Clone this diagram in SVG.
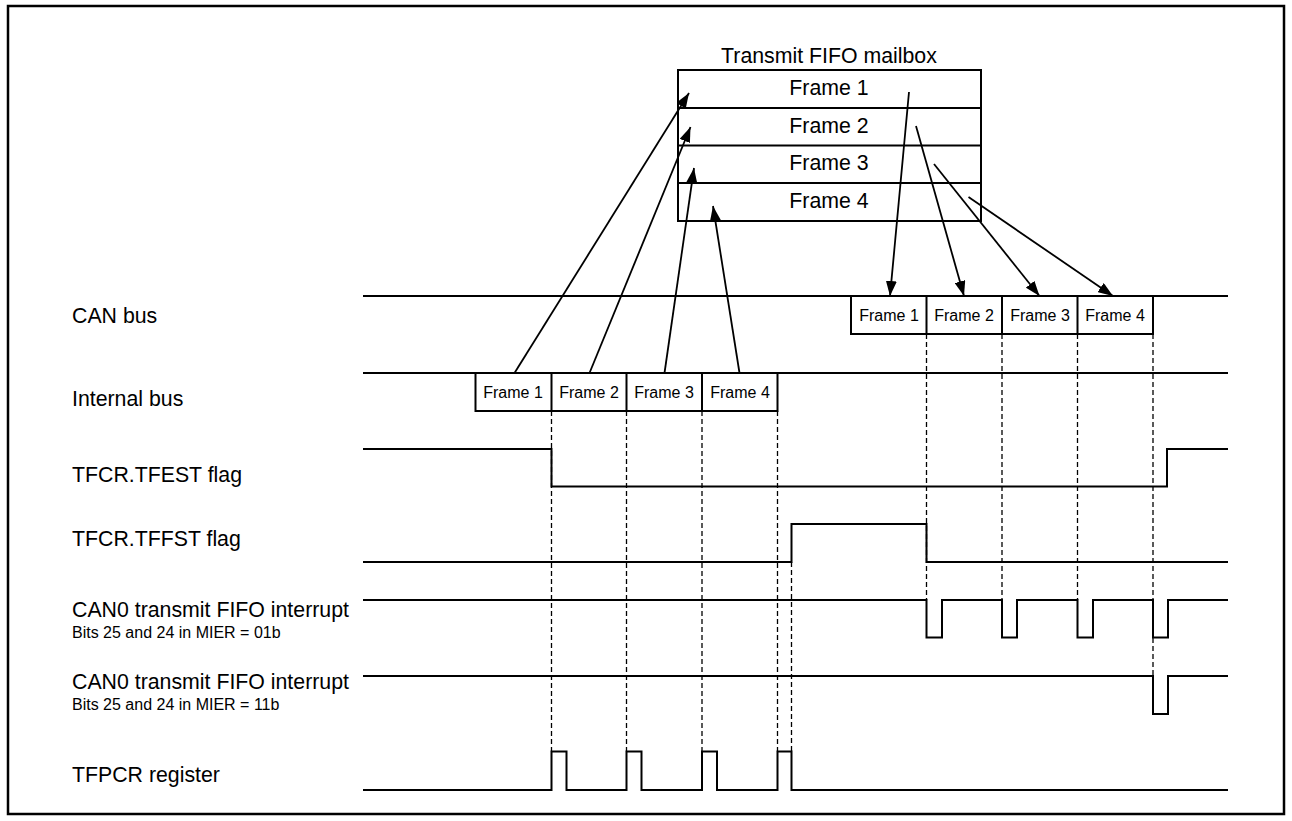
<svg xmlns="http://www.w3.org/2000/svg" width="1292" height="821" viewBox="0 0 1292 821">
<style>
text{font-family:"Liberation Sans",Arial,sans-serif;fill:#000}
.lbl{font-size:21.3px}
.sub{font-size:16px}
.big{font-size:21.3px;text-anchor:middle}
.fr{font-size:16px;text-anchor:middle}
.w{fill:none;stroke:#000;stroke-width:2}
.box{fill:#fff;stroke:#000;stroke-width:2}
.d{fill:none;stroke:#000;stroke-width:1.3;stroke-dasharray:5 3}
.a{fill:none;stroke:#000;stroke-width:1.8}
</style>
<defs>
<marker id="ah" viewBox="0 0 15 11" refX="15" refY="5.5" markerWidth="15" markerHeight="11" markerUnits="userSpaceOnUse" orient="auto"><path d="M0,0 L15,5.5 L0,11 z" fill="#000"/></marker>
</defs>
<rect x="8" y="6" width="1276" height="808" fill="#fff" stroke="#000" stroke-width="2.5"/>

<g id="labels">
<text class="lbl" x="72" y="323">CAN bus</text>
<text class="lbl" x="72" y="406">Internal bus</text>
<text class="lbl" x="72" y="482">TFCR.TFEST flag</text>
<text class="lbl" x="72" y="546">TFCR.TFFST flag</text>
<text class="lbl" x="72" y="617">CAN0 transmit FIFO interrupt</text>
<text class="sub" x="72" y="638">Bits 25 and 24 in MIER = 01b</text>
<text class="lbl" x="72" y="689">CAN0 transmit FIFO interrupt</text>
<text class="sub" x="72" y="710">Bits 25 and 24 in MIER = 11b</text>
<text class="lbl" x="72" y="782">TFPCR register</text>
</g>

<g id="dashes">
<path class="d" d="M551.5 411V751.5M626.5 411V751.5M702 411V751.5M777.5 411V751.5M791.5 562V751.5M926.5 334V600M1002 334V600M1077.5 334V600M1153 334V676"/>
</g>

<g id="waveforms">
<path class="w" d="M363 296H1228"/>
<path class="w" d="M363 373H1228"/>
<path class="w" d="M363 449H551.5V486.5H1167V449H1228"/>
<path class="w" d="M363 562H791.5V524H926.5V562H1228"/>
<path class="w" d="M363 600H926.5V637.5H942V600H1002V637.5H1017V600H1077.5V637.5H1093V600H1153V637.5H1168V600H1228"/>
<path class="w" d="M363 676H1153V714H1168V676H1228"/>
<path class="w" d="M363 790H551.5V751.5H566.5V790H626.5V751.5H641.5V790H702V751.5H717V790H777.5V751.5H791.5V790H1228"/>
</g>

<g id="mailbox">
<text class="big" x="829" y="63">Transmit FIFO mailbox</text>
<rect class="box" x="678" y="70" width="303" height="151"/>
<path class="w" d="M678 108H981M678 145.5H981M678 183H981"/>
<text class="big" x="829" y="95">Frame 1</text>
<text class="big" x="829" y="133">Frame 2</text>
<text class="big" x="829" y="170">Frame 3</text>
<text class="big" x="829" y="208">Frame 4</text>
</g>

<g id="internal-frames">
<rect class="box" x="475.5" y="373" width="302" height="38"/>
<path class="w" d="M551.5 373V411M626.5 373V411M702 373V411"/>
<text class="fr" x="513" y="398">Frame 1</text>
<text class="fr" x="589" y="398">Frame 2</text>
<text class="fr" x="664" y="398">Frame 3</text>
<text class="fr" x="740" y="398">Frame 4</text>
</g>

<g id="can-frames">
<rect class="box" x="851" y="296" width="302" height="38"/>
<path class="w" d="M926.5 296V334M1002 296V334M1077.5 296V334"/>
<text class="fr" x="889" y="321">Frame 1</text>
<text class="fr" x="964" y="321">Frame 2</text>
<text class="fr" x="1040" y="321">Frame 3</text>
<text class="fr" x="1115" y="321">Frame 4</text>
</g>

<g id="connectors">
<line class="a" x1="514.5" y1="373" x2="689" y2="93" marker-end="url(#ah)"/>
<line class="a" x1="589.5" y1="373" x2="690.5" y2="127" marker-end="url(#ah)"/>
<line class="a" x1="664.5" y1="373" x2="694" y2="168" marker-end="url(#ah)"/>
<line class="a" x1="739.5" y1="373" x2="713" y2="206" marker-end="url(#ah)"/>
<line class="a" x1="909" y1="92" x2="890" y2="296" marker-end="url(#ah)"/>
<line class="a" x1="916" y1="126" x2="964" y2="296" marker-end="url(#ah)"/>
<line class="a" x1="934" y1="164" x2="1039.5" y2="296" marker-end="url(#ah)"/>
<line class="a" x1="968.5" y1="197" x2="1113" y2="296" marker-end="url(#ah)"/>
</g>
</svg>
